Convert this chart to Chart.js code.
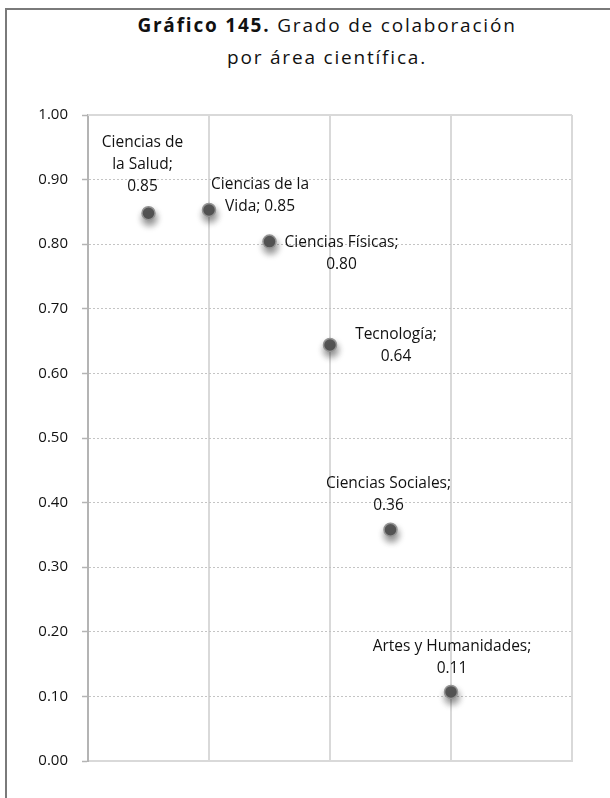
<!DOCTYPE html>
<html>
<head>
<meta charset="utf-8">
<script src="https://cdn.jsdelivr.net/npm/chart.js@4/dist/chart.umd.min.js"></script>
<style>
  html, body { margin: 0; padding: 0; background: #fff; }
  #frame { position: absolute; left: 5px; top: 8px; width: 610px; height: 800px;
           border-left: 2px solid #7a7a7a; border-top: 2px solid #7a7a7a; }
  #title { position: absolute; left: 0; width: 654px; top: 9px; text-align: center;
           font-family: "Open Sans", sans-serif; font-size: 19px; letter-spacing: 1.8px;
           line-height: 32px; color: #111; }
  #wrap { position: absolute; left: 0; top: 0; width: 610px; height: 798px; }
</style>
</head>
<body>
<div id="frame"></div>
<div id="title"><b>Gráfico 145.</b> Grado de colaboración<br>por área científica.</div>
<div id="wrap"><canvas id="chart"></canvas></div>
<script>
// Collaboration degree by scientific area
const categories = ['Ciencias de la Salud', 'Ciencias de la Vida', 'Ciencias Físicas',
                    'Tecnología', 'Ciencias Sociales', 'Artes y Humanidades'];
const xPositions = [1, 2, 3, 4, 5, 6];
const collaboration = [0.848, 0.853, 0.804, 0.644, 0.358, 0.107];
const yTickValues = [0, 0.1, 0.2, 0.3, 0.4, 0.5, 0.6, 0.7, 0.8, 0.9, 1.0];
const xTickValues = [0, 2, 4, 6, 8];

// Label placement: offset of the first text line from the point, and words per line
const labelLayout = [
  { dx: -6, dy: -71, words: [2, 2, 1] },
  { dx: 51, dy: -25, words: [3, 2] },
  { dx: 72, dy: 1,   words: [2, 1] },
  { dx: 66, dy: -10, words: [1, 1] },
  { dx: -2, dy: -46, words: [2, 1] },
  { dx: 1,  dy: -45, words: [3, 1] }
];

const points = xPositions.map((x, i) => ({ x: x, y: collaboration[i] }));

const plotFrame = {
  id: 'plotFrame',
  beforeDatasetsDraw(chart) {
    const { ctx, chartArea: a } = chart;
    ctx.save();
    ctx.strokeStyle = '#d9d9d9';
    ctx.lineWidth = 2;
    ctx.beginPath();
    ctx.moveTo(a.left, a.top);
    ctx.lineTo(a.right, a.top);
    ctx.stroke();
    ctx.restore();
  }
};

const pointShadow = {
  id: 'pointShadow',
  beforeDatasetsDraw(chart) {
    const ctx = chart.ctx;
    ctx.save();
    ctx.shadowColor = 'rgba(0,0,0,0.45)';
    ctx.shadowBlur = 7;
    ctx.shadowOffsetX = 1;
    ctx.shadowOffsetY = 5;
  },
  afterDatasetsDraw(chart) {
    chart.ctx.restore();
  }
};

const pointLabels = {
  id: 'pointLabels',
  afterDatasetsDraw(chart) {
    const ctx = chart.ctx;
    const meta = chart.getDatasetMeta(0);
    ctx.save();
    ctx.font = '15.5px "Open Sans", sans-serif';
    ctx.fillStyle = '#111';
    ctx.textAlign = 'center';
    ctx.textBaseline = 'middle';
    meta.data.forEach((el, i) => {
      const words = (categories[i] + '; ' + collaboration[i].toFixed(2)).split(' ');
      const lay = labelLayout[i];
      let k = 0;
      lay.words.forEach((n, j) => {
        const line = words.slice(k, k + n).join(' ');
        k += n;
        ctx.fillText(line, el.x + lay.dx, el.y + lay.dy + j * 22);
      });
    });
    ctx.restore();
  }
};

new Chart(document.getElementById('chart'), {
  type: 'scatter',
  data: {
    datasets: [{
      data: points,
      backgroundColor: '#5a5a5a',
      borderColor: '#949494',
      borderWidth: 1.5,
      pointRadius: 6.5,
      pointHoverRadius: 6.5
    }]
  },
  options: {
    responsive: true,
    maintainAspectRatio: false,
    animation: false,
    layout: { padding: { left: 0, top: 115, right: 38, bottom: 37 } },
    plugins: { legend: { display: false }, tooltip: { enabled: false } },
    scales: {
      x: {
        type: 'linear', min: 0, max: 8,
        afterBuildTicks: s => { s.ticks = xTickValues.map(v => ({ value: v })); },
        afterFit: s => { s.height = 0; },
        ticks: { display: false },
        grid: {
          drawTicks: false,
          lineWidth: 2,
          color: c => (c.tick && c.tick.value === 0) ? 'rgba(0,0,0,0)' : '#d9d9d9'
        },
        border: { display: true, color: '#d9d9d9', width: 2 }
      },
      y: {
        type: 'linear', min: 0, max: 1,
        afterBuildTicks: s => { s.ticks = yTickValues.map(v => ({ value: v })); },
        afterFit: s => { s.width = 88; },
        ticks: {
          padding: 14,
          color: '#111',
          font: { family: '"Open Sans", sans-serif', size: 15 },
          callback: v => Number(v).toFixed(2)
        },
        grid: {
          color: '#c4c4c4',
          lineWidth: 1,
          drawTicks: true,
          tickLength: 6,
          tickColor: '#b4b4b4',
          tickWidth: 1.5,
          tickBorderDash: []
        },
        border: { display: true, color: '#b4b4b4', width: 2, dash: [2, 2] }
      }
    }
  },
  plugins: [plotFrame, pointShadow, pointLabels]
});
</script>
</body>
</html>
